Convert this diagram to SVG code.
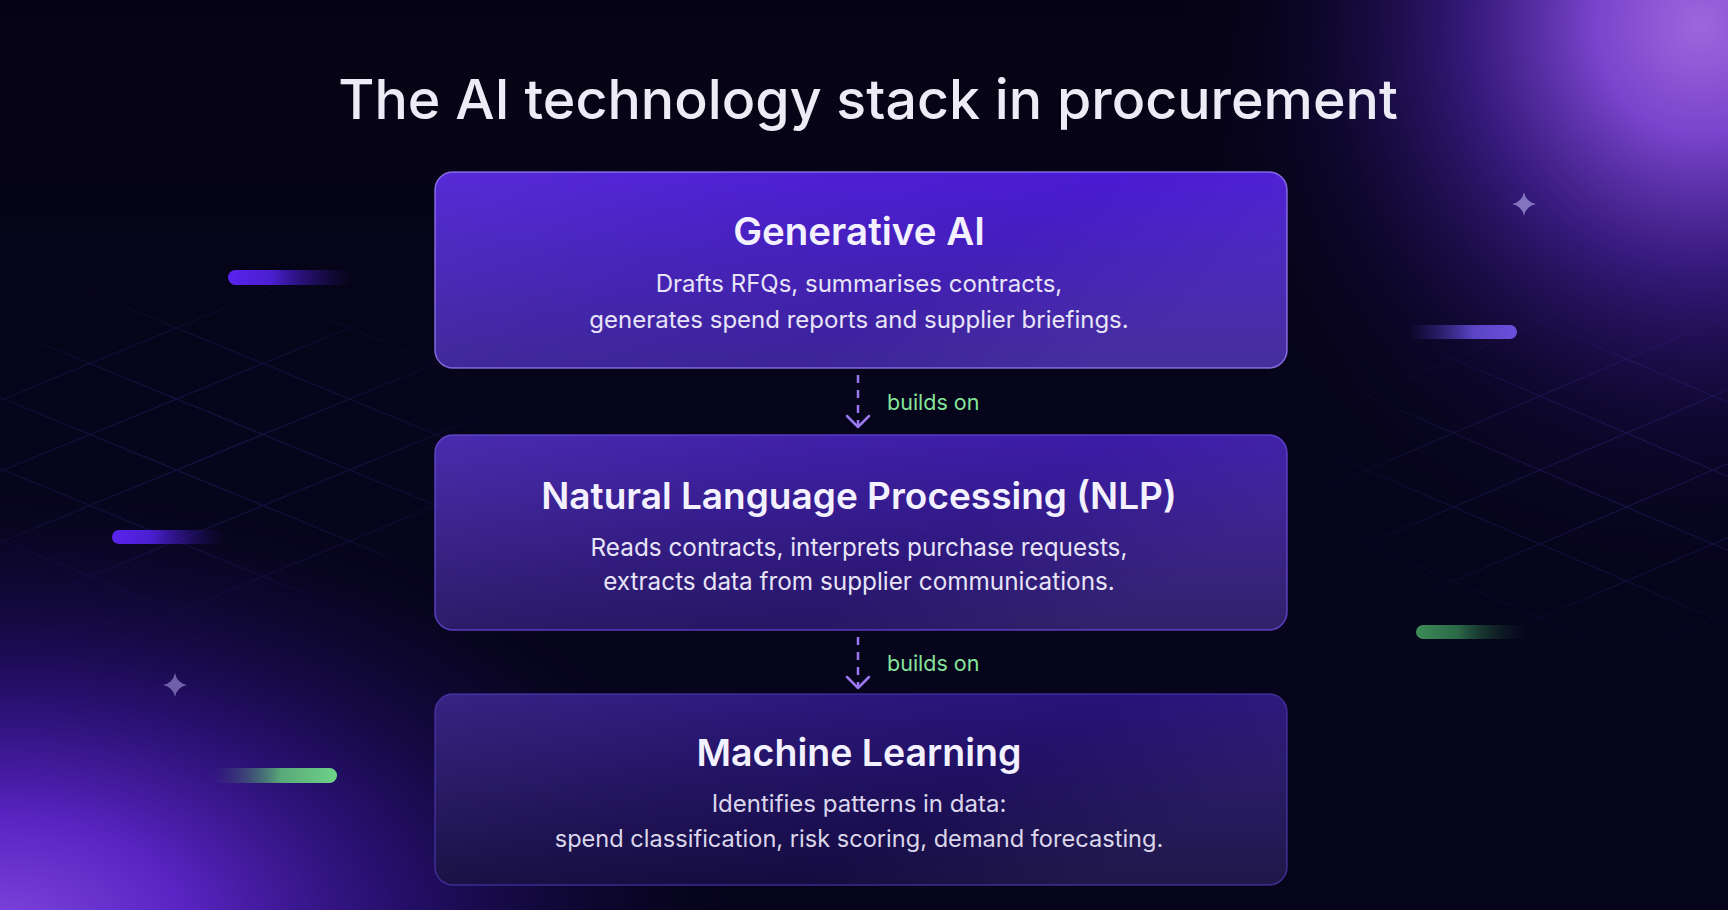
<svg xmlns="http://www.w3.org/2000/svg" width="1728" height="910" viewBox="0 0 1728 910">
  <defs>
    <style>
      .title { font-family: Inter, "Noto Sans", "Liberation Sans", sans-serif; font-size: 55.5px; font-weight: 500; fill: #ecebf6; }
      .ntitle { font-family: Inter, "Noto Sans", "Liberation Sans", sans-serif; font-size: 37.5px; font-weight: 600; fill: #f4f1ff; }
      .desc { font-family: Inter, "Noto Sans", "Liberation Sans", sans-serif; font-size: 24px; font-weight: 400; fill: #e8e4f7; }
      .lbl { font-family: Inter, "Noto Sans", "Liberation Sans", sans-serif; font-size: 21.5px; font-weight: 400; fill: #86e39a; }
      .conn { stroke: #9a78f0; stroke-width: 2.5; fill: none; stroke-linecap: round; stroke-linejoin: round; }
      .dash { stroke-dasharray: 8 7; stroke-linecap: butt; }
      .grid { stroke: #4b38c8; stroke-width: 1; fill: none; }
      .star { fill: #9385cc; }
    </style>
    <radialGradient id="glowTR" cx="1700" cy="25" r="550" gradientUnits="userSpaceOnUse" gradientTransform="translate(1700 25) scale(0.95 1) translate(-1700 -25)">
      <stop offset="0" stop-color="#9e66dc"/>
      <stop offset="0.2" stop-color="#7a44cc"/>
      <stop offset="0.45" stop-color="#44209a" stop-opacity="0.75"/>
      <stop offset="0.75" stop-color="#1c0c55" stop-opacity="0.3"/>
      <stop offset="1" stop-color="#0a0624" stop-opacity="0"/>
    </radialGradient>
    <radialGradient id="glowBL" cx="0" cy="930" r="740" gradientUnits="userSpaceOnUse" gradientTransform="translate(0 930) scale(1 0.6) translate(0 -930)">
      <stop offset="0" stop-color="#7e46dc"/>
      <stop offset="0.25" stop-color="#5a24c4"/>
      <stop offset="0.55" stop-color="#2e1282" stop-opacity="0.75"/>
      <stop offset="0.85" stop-color="#160a4a" stop-opacity="0.3"/>
      <stop offset="1" stop-color="#0a0624" stop-opacity="0"/>
    </radialGradient>
    <linearGradient id="bgBase" x1="0" y1="0" x2="0" y2="1">
      <stop offset="0" stop-color="#050313"/>
      <stop offset="0.5" stop-color="#07051c"/>
      <stop offset="1" stop-color="#06041b"/>
    </linearGradient>

    <linearGradient id="fill1" x1="0" y1="0" x2="0" y2="1">
      <stop offset="0" stop-color="#4a1bd4"/>
      <stop offset="1" stop-color="#3b2496"/>
    </linearGradient>
    <linearGradient id="fill2" x1="0" y1="0" x2="0" y2="1">
      <stop offset="0" stop-color="#3c1ca8"/>
      <stop offset="1" stop-color="#261663"/>
    </linearGradient>
    <linearGradient id="fill3" x1="0" y1="0" x2="0" y2="1">
      <stop offset="0" stop-color="#28137a"/>
      <stop offset="1" stop-color="#140c3f"/>
    </linearGradient>
    <linearGradient id="shine" x1="0" y1="0" x2="1" y2="0.4">
      <stop offset="0" stop-color="#ffffff" stop-opacity="0.07"/>
      <stop offset="0.4" stop-color="#ffffff" stop-opacity="0.02"/>
      <stop offset="0.7" stop-color="#ffffff" stop-opacity="0"/>
      <stop offset="1" stop-color="#ffffff" stop-opacity="0.05"/>
    </linearGradient>

    <linearGradient id="barPurpleL" x1="0" y1="0" x2="1" y2="0">
      <stop offset="0" stop-color="#5a24ee"/>
      <stop offset="0.35" stop-color="#4a1ed0"/>
      <stop offset="1" stop-color="#2a1280" stop-opacity="0"/>
    </linearGradient>
    <linearGradient id="barPurpleR" x1="0" y1="0" x2="1" y2="0">
      <stop offset="0" stop-color="#3a2890" stop-opacity="0"/>
      <stop offset="0.6" stop-color="#5a44c4"/>
      <stop offset="1" stop-color="#6a50dc"/>
    </linearGradient>
    <linearGradient id="barGreenR" x1="0" y1="0" x2="1" y2="0">
      <stop offset="0" stop-color="#3a4a70" stop-opacity="0"/>
      <stop offset="0.55" stop-color="#58a878"/>
      <stop offset="1" stop-color="#6ed388"/>
    </linearGradient>
    <linearGradient id="barGreenL" x1="0" y1="0" x2="1" y2="0">
      <stop offset="0" stop-color="#3c8c58"/>
      <stop offset="0.35" stop-color="#2c6a48"/>
      <stop offset="1" stop-color="#0a1a20" stop-opacity="0"/>
    </linearGradient>

    <pattern id="latL" x="90" y="399" width="173" height="71" patternUnits="userSpaceOnUse">
      <path class="grid" d="M0 35.5 L86.5 0 L173 35.5 L86.5 71 Z"/>
    </pattern>
    <pattern id="latR" x="1540" y="433" width="173" height="74" patternUnits="userSpaceOnUse">
      <path class="grid" d="M0 37 L86.5 0 L173 37 L86.5 74 Z"/>
    </pattern>
    <radialGradient id="fadeL" cx="210" cy="450" r="320" gradientUnits="userSpaceOnUse" gradientTransform="translate(210 450) scale(1 0.58) translate(-210 -450)">
      <stop offset="0" stop-color="#fff" stop-opacity="0.32"/>
      <stop offset="0.6" stop-color="#fff" stop-opacity="0.2"/>
      <stop offset="1" stop-color="#fff" stop-opacity="0"/>
    </radialGradient>
    <radialGradient id="fadeR" cx="1620" cy="470" r="320" gradientUnits="userSpaceOnUse" gradientTransform="translate(1620 470) scale(1 0.58) translate(-1620 -470)">
      <stop offset="0" stop-color="#fff" stop-opacity="0.32"/>
      <stop offset="0.6" stop-color="#fff" stop-opacity="0.2"/>
      <stop offset="1" stop-color="#fff" stop-opacity="0"/>
    </radialGradient>
    <mask id="mL"><rect x="0" y="0" width="1728" height="910" fill="url(#fadeL)"/></mask>
    <mask id="mR"><rect x="0" y="0" width="1728" height="910" fill="url(#fadeR)"/></mask>

    <path id="sparkle" d="M0 -12 Q2 -2 12 0 Q2 2 0 12 Q-2 2 -12 0 Q-2 -2 0 -12 Z"/>
  </defs>

  <!-- background -->
  <g id="background">
    <rect x="0" y="0" width="1728" height="910" fill="url(#bgBase)"/>
    <rect x="0" y="0" width="1728" height="910" fill="url(#glowTR)"/>
    <rect x="0" y="0" width="1728" height="910" fill="url(#glowBL)"/>
    <rect x="0" y="250" width="480" height="420" fill="url(#latL)" mask="url(#mL)"/>
    <rect x="1300" y="300" width="428" height="360" fill="url(#latR)" mask="url(#mR)"/>
  </g>

  <g id="decorations">
    <rect x="228" y="270" width="124" height="15" rx="7.5" fill="url(#barPurpleL)"/>
    <rect x="112" y="530" width="112" height="14" rx="7" fill="url(#barPurpleL)"/>
    <rect x="212" y="768" width="125" height="15" rx="7.5" fill="url(#barGreenR)"/>
    <rect x="1408" y="325" width="109" height="14" rx="7" fill="url(#barPurpleR)"/>
    <rect x="1416" y="625" width="116" height="14" rx="7" fill="url(#barGreenL)"/>
    <use href="#sparkle" class="star" transform="translate(1524 204)" opacity="0.85"/>
    <use href="#sparkle" class="star" transform="translate(175 685)" opacity="0.7"/>
  </g>

  <text class="title" x="868" y="119" text-anchor="middle">The AI technology stack in procurement</text>

  <g id="node-generative-ai">
    <rect x="435" y="172" width="852" height="196" rx="18" fill="url(#fill1)" stroke="#9274f2" stroke-opacity="0.85" stroke-width="1.5"/>
    <rect x="435" y="172" width="852" height="196" rx="18" fill="url(#shine)"/>
    <text class="ntitle" x="859" y="245" text-anchor="middle" style="font-size:38.5px">Generative AI</text>
    <text class="desc" x="859" y="292" text-anchor="middle">Drafts RFQs, summarises contracts,</text>
    <text class="desc" x="859" y="328" text-anchor="middle">generates spend reports and supplier briefings.</text>
  </g>

  <g id="node-nlp">
    <rect x="435" y="435" width="852" height="195" rx="18" fill="url(#fill2)" stroke="#5e40cc" stroke-opacity="0.9" stroke-width="1.5"/>
    <rect x="435" y="435" width="852" height="195" rx="18" fill="url(#shine)"/>
    <text class="ntitle" x="859" y="509" text-anchor="middle" style="font-size:37px">Natural Language Processing (NLP)</text>
    <text class="desc" x="859" y="556" text-anchor="middle" style="font-size:24.3px">Reads contracts, interprets purchase requests,</text>
    <text class="desc" x="859" y="590" text-anchor="middle" style="font-size:24.3px">extracts data from supplier communications.</text>
  </g>

  <g id="node-ml">
    <rect x="435" y="694" width="852" height="191" rx="18" fill="url(#fill3)" stroke="#3f2c9c" stroke-opacity="0.9" stroke-width="1.5"/>
    <rect x="435" y="694" width="852" height="191" rx="18" fill="url(#shine)"/>
    <text class="ntitle" x="859" y="766" text-anchor="middle">Machine Learning</text>
    <text class="desc" x="859" y="812" text-anchor="middle" fill-opacity="0.95">Identifies patterns in data:</text>
    <text class="desc" x="859" y="847" text-anchor="middle" fill-opacity="0.95" style="font-size:23.6px">spend classification, risk scoring, demand forecasting.</text>
  </g>

  <g id="connectors">
    <g id="conn-1">
      <line class="conn dash" x1="858" y1="375" x2="858" y2="426"/>
      <path class="conn" d="M847 416 L858 427 L869 416"/>
      <text class="lbl" x="887" y="410">builds on</text>
    </g>
    <g id="conn-2">
      <line class="conn dash" x1="858" y1="637" x2="858" y2="687"/>
      <path class="conn" d="M847 677 L858 688 L869 677"/>
      <text class="lbl" x="887" y="671">builds on</text>
    </g>
  </g>
</svg>
